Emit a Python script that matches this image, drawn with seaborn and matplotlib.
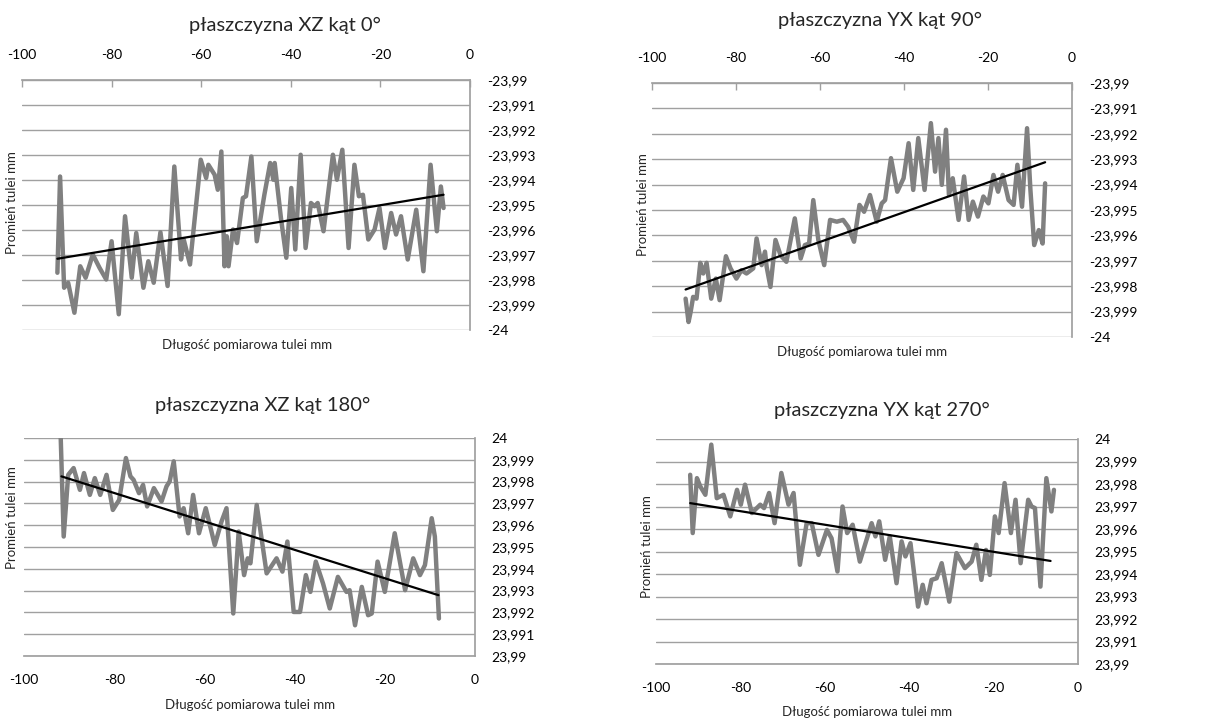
import numpy as np
import pandas as pd
import seaborn as sns
import matplotlib.pyplot as plt
from matplotlib.ticker import FuncFormatter, MultipleLocator

# --- data ---
xz0_x = [-92.1, -91.5, -90.6, -89.7, -88.3, -87.0, -85.8, -84.2, -82.7, -81.2,
         -80.0, -78.4, -77.0, -75.5, -74.5, -72.9, -71.8, -70.6, -69.1, -67.5,
         -66.0, -64.5, -63.9, -62.5, -60.1, -58.9, -58.4, -57.0, -56.3, -55.5,
         -54.8, -54.3, -53.9, -52.9, -52.0, -50.7, -50.0, -48.8, -47.6, -45.9,
         -44.6, -43.9, -43.6, -42.2, -41.0, -39.9, -39.0, -37.8, -36.7, -35.5,
         -34.7, -34.0, -32.7, -30.6, -29.7, -28.5, -27.1, -25.8, -24.8, -23.9,
         -22.7, -21.3, -20.2, -19.0, -17.6, -16.5, -15.4, -13.9, -12.0, -10.4,
         -8.8, -7.4, -6.5, -5.9]
xz0_y = [-23.99771, -23.99386, -23.99831, -23.99811, -23.99931, -23.99745, -23.99791, -23.99698, -23.99751, -23.99798,
         -23.99645, -23.99937, -23.99545, -23.99791, -23.99612, -23.99831, -23.99725, -23.99811, -23.99609, -23.99824,
         -23.99346, -23.99718, -23.99638, -23.99738, -23.99319, -23.99392, -23.99339, -23.99379, -23.99439, -23.99286,
         -23.99745, -23.99625, -23.99745, -23.99598, -23.99652, -23.99472, -23.99465, -23.99306, -23.99645, -23.99459,
         -23.99332, -23.99399, -23.99332, -23.99552, -23.99711, -23.99432, -23.99678, -23.99299, -23.99672, -23.99492,
         -23.99505, -23.99492, -23.99605, -23.99299, -23.99399, -23.99279, -23.99672, -23.99339, -23.99465, -23.99459,
         -23.99638, -23.99598, -23.99512, -23.99672, -23.99532, -23.99618, -23.99545, -23.99718, -23.99519, -23.99765,
         -23.99339, -23.99605, -23.99426, -23.99512]
xz0_trend_x = [-92.1, -5.9]
xz0_trend_y = [-23.99715, -23.99459]

yx90_x = [-92.0, -91.3, -90.8, -90.2, -89.4, -88.5, -87.8, -87.0, -85.9, -84.8,
          -83.9, -82.4, -81.3, -79.9, -78.7, -77.5, -75.9, -75.1, -73.9, -73.1,
          -72.7, -71.8, -70.6, -69.4, -68.0, -66.0, -64.6, -63.6, -62.6, -61.6,
          -60.4, -59.0, -57.6, -56.0, -54.5, -53.3, -51.9, -50.6, -49.5, -48.1,
          -46.5, -45.3, -44.5, -43.1, -41.6, -40.1, -38.9, -37.8, -36.6, -35.1,
          -33.6, -32.6, -31.8, -31.0, -30.0, -29.3, -28.4, -27.0, -25.7, -24.6,
          -23.6, -22.4, -21.1, -19.9, -18.7, -17.6, -16.5, -15.1, -13.9, -13.0,
          -11.9, -10.7, -9.9, -9.0, -7.9, -7.0, -6.4]
yx90_y = [-23.99849, -23.99941, -23.99901, -23.99842, -23.99849, -23.99708, -23.99750, -23.99708, -23.99849, -23.99770,
          -23.99855, -23.99682, -23.99730, -23.99770, -23.99737, -23.99750, -23.99730, -23.99612, -23.99717, -23.99664,
          -23.99724, -23.99803, -23.99618, -23.99678, -23.99704, -23.99533, -23.99691, -23.99638, -23.99632, -23.99461,
          -23.99618, -23.99717, -23.99539, -23.99546, -23.99539, -23.99566, -23.99625, -23.99480, -23.99507, -23.99441,
          -23.99546, -23.99474, -23.99461, -23.99296, -23.99428, -23.99375, -23.99237, -23.99421, -23.99217, -23.99421,
          -23.99158, -23.99349, -23.99217, -23.99401, -23.99184, -23.99441, -23.99375, -23.99539, -23.99368, -23.99539,
          -23.99467, -23.99526, -23.99447, -23.99474, -23.99362, -23.99428, -23.99362, -23.99461, -23.99480, -23.99322,
          -23.99487, -23.99178, -23.99421, -23.99638, -23.99579, -23.99632, -23.99395]
yx90_trend_x = [-92.0, -6.4]
yx90_trend_y = [-23.99813, -23.99312]

xz180_x = [-91.9, -91.2, -90.2, -89.0, -87.6, -86.7, -85.4, -84.3, -83.1, -81.7,
           -80.3, -78.9, -77.4, -76.4, -75.7, -74.5, -73.6, -72.7, -71.2, -69.5,
           -68.4, -67.7, -66.8, -65.5, -64.6, -63.6, -62.5, -61.2, -59.7, -57.7,
           -56.2, -55.1, -53.6, -52.4, -51.2, -50.4, -49.8, -48.4, -46.2, -44.0,
           -42.7, -41.6, -40.2, -38.8, -37.5, -36.5, -35.3, -33.7, -32.2, -30.4,
           -28.5, -27.8, -26.6, -25.1, -23.7, -22.9, -21.6, -20.0, -17.8, -15.5,
           -13.7, -12.2, -11.1, -9.6, -8.9, -8.0]
xz180_y = [24.00030, 23.99548, 23.99831, 23.99862, 23.99762, 23.99839, 23.99739, 23.99816, 23.99739, 23.99831,
           23.99670, 23.99716, 23.99908, 23.99824, 23.99808, 23.99747, 23.99785, 23.99686, 23.99770, 23.99709,
           23.99778, 23.99801, 23.99893, 23.99640, 23.99678, 23.99563, 23.99739, 23.99563, 23.99678, 23.99509,
           23.99617, 23.99678, 23.99195, 23.99571, 23.99371, 23.99448, 23.99425, 23.99693, 23.99379, 23.99448,
           23.99387, 23.99525, 23.99202, 23.99202, 23.99371, 23.99294, 23.99433, 23.99333, 23.99218, 23.99363,
           23.99294, 23.99302, 23.99141, 23.99317, 23.99187, 23.99195, 23.99433, 23.99294, 23.99563, 23.99302,
           23.99448, 23.99371, 23.99417, 23.99632, 23.99548, 23.99172]
xz180_trend_x = [-91.7, -8.1]
xz180_trend_y = [23.99824, 23.99279]

yx270_x = [-91.9, -91.3, -90.3, -89.5, -88.3, -86.9, -85.6, -84.0, -82.4, -80.8,
           -79.9, -78.9, -77.3, -75.3, -74.4, -73.2, -71.9, -70.3, -68.6, -67.4,
           -65.9, -64.3, -63.1, -61.5, -59.5, -58.4, -57.0, -55.8, -54.7, -53.4,
           -51.7, -48.9, -48.0, -47.1, -45.7, -44.6, -43.0, -41.8, -40.9, -39.7,
           -37.9, -36.8, -35.9, -34.7, -33.5, -32.3, -30.5, -28.8, -26.8, -25.2,
           -24.1, -22.9, -21.8, -20.9, -19.7, -18.8, -17.4, -15.9, -14.8, -13.6,
           -11.8, -11.0, -10.2, -8.9, -7.5, -6.3, -5.7]
yx270_y = [23.99841, 23.99582, 23.99826, 23.99789, 23.99752, 23.99975, 23.99737, 23.99752, 23.99656, 23.99774,
           23.99708, 23.99797, 23.99671, 23.99708, 23.99693, 23.99760, 23.99626, 23.99849, 23.99708, 23.99760,
           23.99441, 23.99626, 23.99626, 23.99485, 23.99596, 23.99559, 23.99411, 23.99700, 23.99582, 23.99619,
           23.99455, 23.99626, 23.99567, 23.99634, 23.99463, 23.99567, 23.99359, 23.99545, 23.99478, 23.99537,
           23.99255, 23.99352, 23.99270, 23.99374, 23.99381, 23.99448, 23.99277, 23.99493, 23.99426, 23.99455,
           23.99530, 23.99374, 23.99507, 23.99396, 23.99656, 23.99582, 23.99804, 23.99582, 23.99730, 23.99448,
           23.99730, 23.99700, 23.99693, 23.99344, 23.99826, 23.99678, 23.99774]
yx270_trend_x = [-91.9, -6.5]
yx270_trend_y = [23.99715, 23.99458]

titles = ["płaszczyzna XZ kąt 0°", "płaszczyzna YX kąt 90°",
          "płaszczyzna XZ kąt 180°", "płaszczyzna YX kąt 270°"]
xlabel = "Długość pomiarowa tulei mm"
ylabel = "Promień tulei mm"

sns.set_theme(style="white")
plt.rcParams["font.family"] = ["Lato", "DejaVu Sans"]


def pl_num(v, pos):
    s = f"{v:.3f}".rstrip("0").rstrip(".")
    return s.replace(".", ",")


def panel(ax, x, y, tx, ty, ylim, top):
    df = pd.DataFrame({"x": x, "y": y})
    sns.lineplot(data=df, x="x", y="y", ax=ax, color="#808080", linewidth=3.2,
                 estimator=None, sort=False, solid_joinstyle="round",
                 solid_capstyle="round")
    sns.lineplot(x=tx, y=ty, ax=ax, color="black", linewidth=1.6)
    ax.set_xlim(-100, 0)
    ax.set_ylim(*ylim)
    ax.xaxis.set_major_locator(MultipleLocator(20))
    ax.yaxis.set_major_locator(MultipleLocator(0.001))
    ax.xaxis.set_major_formatter(FuncFormatter(lambda v, p: f"{v:.0f}"))
    ax.yaxis.set_major_formatter(FuncFormatter(pl_num))
    ax.yaxis.tick_right()
    ax.set_xlabel("")
    ax.set_ylabel("")
    ax.grid(True, axis="y", color="#a0a0a0", linewidth=1)
    ax.grid(False, axis="x")
    for s in ax.spines.values():
        s.set_visible(False)
    ax.spines["right"].set_visible(True)
    ax.spines["right"].set_color("#a0a0a0")
    if top:
        ax.xaxis.tick_top()
        ax.spines["top"].set_visible(True)
        ax.spines["top"].set_color("#a0a0a0")
        ax.tick_params(axis="x", direction="in", length=5, width=1,
                       color="#a0a0a0", pad=14, labelsize=10, labelcolor="black")
    else:
        ax.spines["bottom"].set_visible(True)
        ax.spines["bottom"].set_color("#a0a0a0")
        ax.tick_params(axis="x", direction="out", length=5, width=1,
                       color="#a0a0a0", pad=8, labelsize=10, labelcolor="black")
    ax.tick_params(axis="y", length=0, pad=12, labelsize=10, labelcolor="black")
    for lab in ax.get_yticklabels():
        lab.set_horizontalalignment("left")


fig = plt.figure(figsize=(12.14, 7.2), dpi=100)
W, H = 1214, 720


def box(l, t, r, b):
    return [l / W, 1 - b / H, (r - l) / W, (b - t) / H]


ax1 = fig.add_axes(box(22, 80, 470, 330))
ax2 = fig.add_axes(box(652, 83, 1072, 337))
ax3 = fig.add_axes(box(24, 438, 475, 656))
ax4 = fig.add_axes(box(656, 439, 1078, 664))

panel(ax1, xz0_x, xz0_y, xz0_trend_x, xz0_trend_y, (-24, -23.99), True)
panel(ax2, yx90_x, yx90_y, yx90_trend_x, yx90_trend_y, (-24, -23.99), True)
panel(ax3, xz180_x, xz180_y, xz180_trend_x, xz180_trend_y, (23.99, 24), False)
panel(ax4, yx270_x, yx270_y, yx270_trend_x, yx270_trend_y, (23.99, 24), False)

# titles and axis labels placed like the original layout
title_pos = [(285, 25), (880, 20), (263, 405), (882, 410)]
xlab_pos = [(247, 345), (862, 352), (250, 705), (867, 712)]
ylab_pos = [(12, 203), (643, 205), (12, 518), (647, 547)]
for t, (tx, ty), (lx, ly), (yx, yy) in zip(titles, title_pos, xlab_pos, ylab_pos):
    fig.text(tx / W, 1 - ty / H, t, ha="center", va="center", fontsize=14.5)
    fig.text(lx / W, 1 - ly / H, xlabel, ha="center", va="center", fontsize=9.5)
    fig.text(yx / W, 1 - yy / H, ylabel, ha="center", va="center", fontsize=9.5,
             rotation=90)

fig.savefig("out.png", dpi=100)
